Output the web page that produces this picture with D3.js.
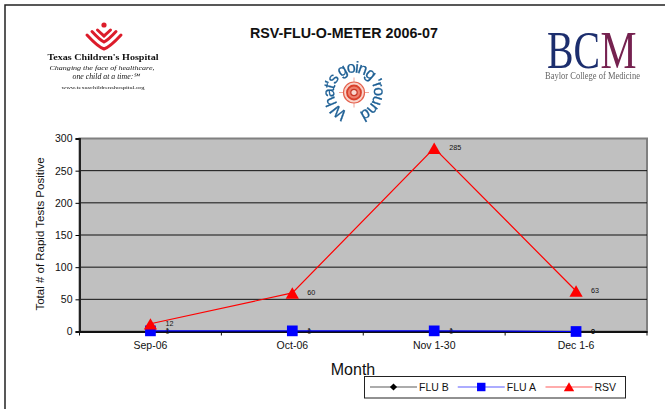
<!DOCTYPE html>
<meta charset="utf-8">
<style>
  html, body { margin: 0; padding: 0; background: #fff; }
  svg { display: block; }
  text { font-family: "Liberation Sans", Arial, sans-serif; fill: #111; }
  .serif { font-family: "Liberation Serif", "Times New Roman", serif; }
</style>

<!-- Load d3.js -->
<script src="https://d3js.org/d3.v7.js"></script>

<div id="my_dataviz"></div>

<script>
  // chart values
  var months = ["Sep-06", "Oct-06", "Nov 1-30", "Dec 1-6"];
  var fluB = [0, 0, 0, 0];
  var fluA = [1, 1, 1, 0];
  var rsv = [12, 60, 285, 63];
  var yTicks = [0, 50, 100, 150, 200, 250, 300];

  var width = 665, height = 409;
  var margin = {top: 138.5, right: 18, bottom: 77.5, left: 79.5};

  var svg = d3.select("#my_dataviz").append("svg")
    .attr("width", width)
    .attr("height", height);

  // logos are a bit soft in the original
  svg.append("defs").append("filter").attr("id", "soft")
    .append("feGaussianBlur").attr("stdDeviation", 0.45);

  // page frame, left and top only
  svg.append("path")
    .attr("d", "M5,409V5H665")
    .attr("fill", "none")
    .attr("stroke", "#222")
    .attr("stroke-width", 1.5);

  svg.append("text")
    .attr("x", 344).attr("y", 38)
    .attr("text-anchor", "middle")
    .attr("font-size", 15)
    .attr("font-weight", "bold")
    .attr("textLength", 188)
    .attr("lengthAdjust", "spacingAndGlyphs")
    .text("RSV-FLU-O-METER 2006-07");

  // Texas Children's logo
  var tch = svg.append("g").attr("filter", "url(#soft)");
  tch.append("circle").attr("cx", 104).attr("cy", 25).attr("r", 2.6).attr("fill", "#dc1e2c");
  [[6.5, 30, 36], [12, 31.5, 42], [17, 35, 49]].forEach(function(c) {
    tch.append("path")
      .attr("d", "M" + (104 - c[0]) + "," + c[1] +
        "Q" + (104 - c[0] * 0.35) + "," + (c[2] - 2) + " 104," + c[2] +
        "Q" + (104 + c[0] * 0.35) + "," + (c[2] - 2) + " " + (104 + c[0]) + "," + c[1])
      .attr("fill", "none")
      .attr("stroke", "#dc1e2c")
      .attr("stroke-width", 3)
      .attr("stroke-linecap", "round");
  });
  tch.append("text").attr("class", "serif").attr("x", 103).attr("y", 60)
    .attr("text-anchor", "middle").attr("font-size", 8.5).attr("font-weight", "bold")
    .attr("textLength", 111).attr("lengthAdjust", "spacingAndGlyphs")
    .text("Texas Children's Hospital");
  tch.append("text").attr("class", "serif").attr("x", 102).attr("y", 70)
    .attr("text-anchor", "middle").attr("font-size", 7).attr("font-style", "italic")
    .attr("textLength", 105).attr("lengthAdjust", "spacingAndGlyphs")
    .text("Changing the face of healthcare,");
  tch.append("text").attr("class", "serif").attr("x", 106).attr("y", 78.5)
    .attr("text-anchor", "middle").attr("font-size", 7.5).attr("font-style", "italic")
    .attr("textLength", 67).attr("lengthAdjust", "spacingAndGlyphs")
    .text("one child at a time:\u2120");
  tch.append("text").attr("class", "serif").attr("x", 103).attr("y", 88.5)
    .attr("text-anchor", "middle").attr("font-size", 5).attr("fill", "#444")
    .attr("textLength", 83).attr("lengthAdjust", "spacingAndGlyphs")
    .text("www.texaschildrenshospital.org");

  // What's going 'round seal
  var seal = svg.append("g").attr("filter", "url(#soft)").attr("transform", "translate(354,92.5)");
  seal.append("path").attr("id", "ring")
    .attr("d", d3.arc().innerRadius(20).outerRadius(20).startAngle(-2.85).endAngle(3.3)())
    .attr("fill", "none");
  seal.append("text")
    .attr("font-size", 16)
    .attr("letter-spacing", -1.45)
    .style("fill", "#1d5f94")
    .style("stroke", "#1d5f94")
    .style("stroke-width", 0.3)
    .append("textPath")
    .attr("href", "#ring")
    .text("What's going 'round");
  seal.append("path").attr("d", "M-15,0H15M0,-15V15").attr("stroke", "#ec8f80").attr("stroke-width", 0.8);
  seal.append("circle").attr("r", 10.5).attr("fill", "#f9d3ca").attr("stroke", "#e4604c").attr("stroke-width", 1.2);
  seal.append("circle").attr("r", 7).attr("fill", "#ee7f6c").attr("stroke", "#d8402c").attr("stroke-width", 1.8);
  seal.append("circle").attr("r", 3.2).attr("fill", "#f9d8d0").attr("stroke", "#c83828").attr("stroke-width", 1.2);

  // Baylor logo
  var bcm = svg.append("g").attr("filter", "url(#soft)");
  bcm.append("text").attr("class", "serif").attr("x", 547).attr("y", 67.5)
    .attr("font-size", 52).style("fill", "#1e2f6e")
    .attr("textLength", 53).attr("lengthAdjust", "spacingAndGlyphs").text("BC");
  bcm.append("text").attr("class", "serif").attr("x", 600.5).attr("y", 67.5)
    .attr("font-size", 52).style("fill", "#74204f")
    .attr("textLength", 36).attr("lengthAdjust", "spacingAndGlyphs").text("M");
  bcm.append("text").attr("class", "serif").attr("x", 545).attr("y", 78.5)
    .attr("font-size", 10).style("fill", "#666")
    .attr("textLength", 95).attr("lengthAdjust", "spacingAndGlyphs")
    .text("Baylor College of Medicine");

  // plot area
  var plotW = width - margin.left - margin.right;
  var plotH = height - margin.top - margin.bottom;
  var g = svg.append("g").attr("transform", "translate(" + margin.left + "," + margin.top + ")");

  var x = d3.scaleBand().domain(months).range([0, plotW]);
  var y = d3.scaleLinear().domain([0, 300]).range([plotH, 0]);

  g.append("rect").attr("width", plotW).attr("height", plotH)
    .attr("fill", "#c0c0c0")
    .attr("stroke", "#808080")
    .attr("stroke-width", 2);

  g.selectAll(".grid").data(yTicks.filter(function(d) { return d > 0 && d < 300; }))
    .join("line").attr("class", "grid")
    .attr("x1", 0).attr("x2", plotW)
    .attr("y1", y).attr("y2", y)
    .attr("stroke", "#111")
    .attr("stroke-width", 1);

  // axes
  var yAxis = g.append("g").call(d3.axisLeft(y).tickValues(yTicks).tickSize(4).tickPadding(3));
  yAxis.select(".domain").attr("stroke", "#222").attr("stroke-width", 2);
  yAxis.selectAll("text").attr("font-size", 10.5).attr("font-family", null);

  var xAxis = g.append("g").attr("transform", "translate(0," + plotH + ")")
    .call(d3.axisBottom(x).tickSize(0).tickPadding(10));
  xAxis.select(".domain").attr("stroke", "#111").attr("stroke-width", 2);
  xAxis.selectAll("text").attr("font-size", 10.5).attr("font-family", null);

  // ticks sit between the categories
  g.selectAll(".xtick").data(d3.range(months.length + 1))
    .join("line").attr("class", "xtick")
    .attr("x1", function(i) { return i * x.step(); })
    .attr("x2", function(i) { return i * x.step(); })
    .attr("y1", plotH).attr("y2", plotH + 4)
    .attr("stroke", "#111");

  svg.append("text")
    .attr("transform", "translate(43.5,234) rotate(-90)")
    .attr("text-anchor", "middle")
    .attr("font-size", 11.5)
    .text("Total # of Rapid Tests Positive");

  svg.append("text")
    .attr("x", 353).attr("y", 374.5)
    .attr("text-anchor", "middle")
    .attr("font-size", 16)
    .text("Month");

  // series
  var series = [
    {name: "FLU B", values: fluB, color: "#000", symbol: d3.symbolDiamond2 || d3.symbolDiamond, size: 52, dy: 0},
    {name: "FLU A", values: fluA, color: "#0000ff", symbol: d3.symbolSquare, size: 115, dy: 0},
    {name: "RSV", values: rsv, color: "#ff0000", symbol: d3.symbolTriangle, size: 76, dy: 2}
  ];

  var line = d3.line()
    .x(function(d, i) { return x(months[i]) + x.bandwidth() / 2; })
    .y(function(d) { return y(d); });

  series.forEach(function(s) {
    g.append("path")
      .attr("d", line(s.values))
      .attr("fill", "none")
      .attr("stroke", s.color)
      .attr("stroke-width", 1.2);

    g.selectAll(null).data(s.values).join("path")
      .attr("d", d3.symbol().type(s.symbol).size(s.size))
      .attr("fill", s.color)
      .attr("transform", function(d, i) {
        return "translate(" + (x(months[i]) + x.bandwidth() / 2) + "," + (y(d) + s.dy) + ")";
      });

    g.selectAll(null).data(s.values).join("text")
      .attr("x", function(d, i) { return x(months[i]) + x.bandwidth() / 2 + 15; })
      .attr("y", function(d) { return y(d) + 2; })
      .attr("font-size", 7.2)
      .text(function(d) { return d; });
  });

  // legend
  var legend = svg.append("g").attr("transform", "translate(364.5,376.5)");
  legend.append("rect").attr("width", 261).attr("height", 21.5)
    .attr("fill", "#fff").attr("stroke", "#222").attr("stroke-width", 1);

  var legendX = d3.scalePoint().domain(series.map(function(s) { return s.name; })).range([29, 204.5]);
  series.forEach(function(s) {
    var cx = legendX(s.name);
    legend.append("line")
      .attr("x1", cx - 23.5).attr("x2", cx + 23.5)
      .attr("y1", 10.5).attr("y2", 10.5)
      .attr("stroke", s.color)
      .attr("stroke-opacity", 0.65)
      .attr("stroke-width", 1.2);
    legend.append("path")
      .attr("d", d3.symbol().type(s.symbol).size(s.size * 0.62))
      .attr("fill", s.color)
      .attr("transform", "translate(" + cx + "," + (10.5 + s.dy * 0.6) + ")");
    legend.append("text")
      .attr("x", cx + 25.5).attr("y", 14)
      .attr("font-size", 10.5)
      .text(s.name);
  });
</script>
